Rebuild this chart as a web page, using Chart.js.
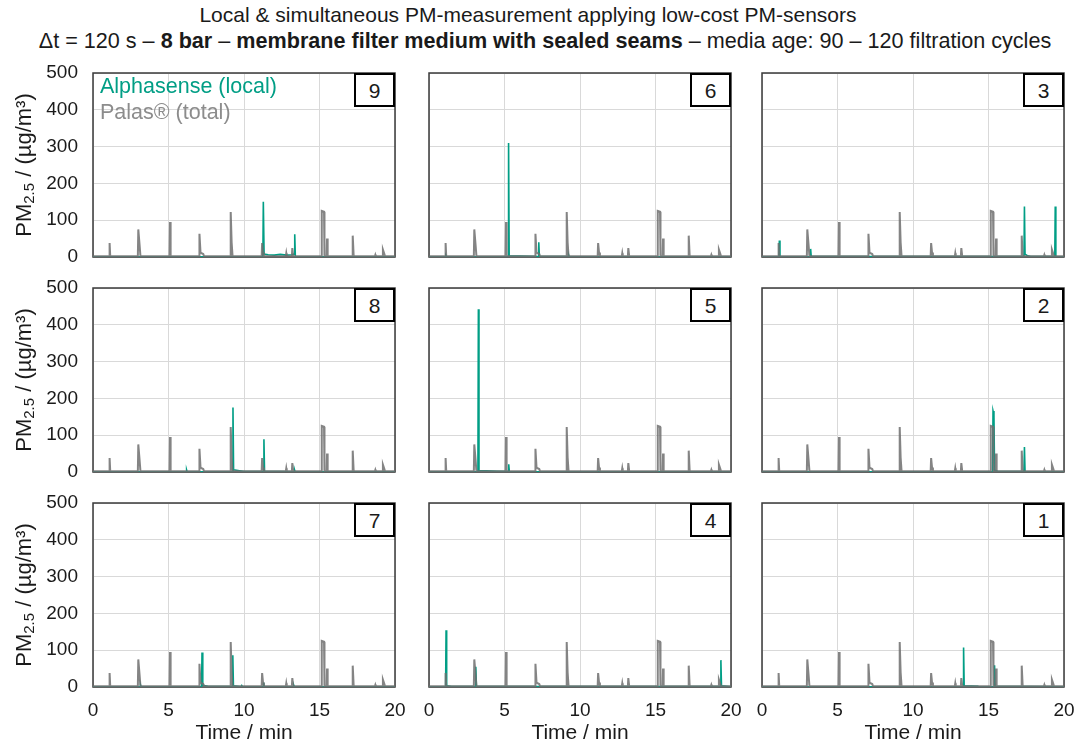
<!DOCTYPE html>
<html>
<head>
<meta charset="utf-8">
<script src="https://cdn.jsdelivr.net/npm/chart.js@4.4.1/dist/chart.umd.min.js"></script>
<style>
  body { margin: 0; background: #fff; font-family: "Liberation Sans", Arial, sans-serif; color: #1a1a1a; }
  #page { position: relative; width: 1078px; height: 749px; overflow: hidden; }
  .title { position: absolute; font-size: 21px; white-space: nowrap; transform: translateX(-50%); }
  .panel { position: absolute; }
  .num { position: absolute; width: 37px; height: 30px; border: 2px solid #000; background: #fff;
         font-size: 21px; text-align: center; line-height: 31px; }
  .ylab { position: absolute; width: 220px; height: 26px; line-height: 26px; text-align: center;
          font-size: 22px; transform: rotate(-90deg); white-space: nowrap; }
  .ylab sub { font-size: 15px; vertical-align: -3px; line-height: 0; }
  .leg { position: absolute; font-size: 21.5px; white-space: nowrap; }
</style>
</head>
<body>
<div id="page">
  <div class="title" style="left:528px;top:3px">Local &amp; simultaneous PM-measurement applying low-cost PM-sensors</div>
  <div class="title" style="left:545px;top:28px;font-size:21.6px">&Delta;t = 120 s &ndash; <b>8 bar</b> &ndash; <b>membrane filter medium with sealed seams</b> &ndash; media age: 90 &ndash; 120 filtration cycles</div>
</div>
<script>
// Achsen
const timeTicks = [0, 5, 10, 15, 20];
const pmTicks = [0, 100, 200, 300, 400, 500];

// Palas (gesamt) – gleiche Spitzen in allen Feldern
const palasTime = [0, 1.07, 1.1, 1.14, 2.97, 3.0, 3.08, 3.14, 5.07, 5.1, 5.14, 7.02, 7.05, 7.12, 7.3, 7.36,
  9.09, 9.12, 9.18, 9.24, 11.17, 11.2, 11.26, 11.32, 12.77, 12.8, 12.83, 13.17, 13.2, 13.26,
  15.12, 15.15, 15.3, 15.33, 15.47, 15.5, 15.54, 17.17, 17.2, 17.26, 17.3, 18.67, 18.7, 18.73,
  19.17, 19.2, 19.28, 19.34, 20];
const palasPM = [2, 2, 38, 3, 2, 75, 35, 3, 2, 95, 3, 2, 63, 12, 8, 2,
  2, 122, 40, 3, 2, 38, 12, 2, 2, 10, 2, 2, 24, 2,
  2, 125, 123, 2, 2, 50, 2, 2, 58, 5, 2, 2, 6, 2,
  2, 20, 10, 2, 2];

// Alphasense (lokal) – je Feld
const alpha9Time = [0, 11.25, 11.28, 11.33, 11.6, 12.0, 12.4, 12.8, 13.2, 13.33, 13.36, 13.4, 20];
const alpha9PM = [0.5, 1, 150, 8, 6, 5, 7, 5, 6, 8, 62, 1, 0.5];
const alpha6Time = [0, 1.09, 1.12, 1.16, 5.24, 5.27, 5.31, 7.24, 7.27, 7.31, 9.22, 9.25, 9.28, 20];
const alpha6PM = [0.5, 0.5, 4, 0.5, 1, 310, 3, 1, 40, 2, 1, 5, 0.5, 0.5];
const alpha3Time = [0, 1.12, 1.15, 1.19, 3.19, 3.22, 3.26, 17.35, 17.38, 17.42, 17.6, 17.8, 19.39, 19.42, 19.46, 20];
const alpha3PM = [0.5, 0.5, 45, 1, 0.5, 22, 1, 1, 137, 8, 3, 1, 1, 137, 1, 0.5];
const alpha8Time = [0, 6.17, 6.2, 6.23, 9.24, 9.27, 9.31, 9.6, 10.0, 11.29, 11.32, 11.36, 13.32, 13.35, 13.38, 20];
const alpha8PM = [0.5, 0.5, 5, 0.5, 1, 175, 6, 4, 1, 1, 89, 2, 0.5, 5, 0.5, 0.5];
const alpha5Time = [0, 3.24, 3.27, 3.31, 3.8, 4.5, 5.25, 5.28, 5.32, 20];
const alpha5PM = [0.5, 1, 442, 4, 3, 2, 1, 21, 1, 0.5];
const alpha2Time = [0, 15.27, 15.3, 15.36, 15.4, 15.6, 17.35, 17.38, 17.42, 20];
const alpha2PM = [0.5, 1, 166, 155, 5, 2, 1, 68, 1, 0.5];
const alpha7Time = [0, 3.12, 3.15, 3.18, 7.19, 7.22, 7.27, 7.6, 9.23, 9.26, 9.3, 9.8, 9.85, 9.9,
  11.27, 11.3, 11.34, 13.27, 13.3, 13.33, 20];
const alpha7PM = [0.5, 0.5, 5, 0.5, 1, 94, 5, 2, 1, 86, 3, 0.5, 4, 0.5, 1, 12, 1, 0.5, 4, 0.5, 0.5];
const alpha4Time = [0, 1.1, 1.13, 1.17, 1.5, 3.07, 3.1, 3.14, 19.3, 19.33, 19.37, 20];
const alpha4PM = [0.5, 1, 154, 3, 1, 1, 55, 2, 1, 73, 3, 0.5];
const alpha1Time = [0, 13.32, 13.35, 13.39, 14.3, 14.35, 15.37, 15.4, 15.44, 20];
const alpha1PM = [0.5, 1, 107, 3, 2, 0.5, 1, 59, 2, 0.5];

const panelOrder = [9, 6, 3, 8, 5, 2, 7, 4, 1];
const alphaTime = { 1: alpha1Time, 2: alpha2Time, 3: alpha3Time, 4: alpha4Time, 5: alpha5Time,
  6: alpha6Time, 7: alpha7Time, 8: alpha8Time, 9: alpha9Time };
const alphaPM = { 1: alpha1PM, 2: alpha2PM, 3: alpha3PM, 4: alpha4PM, 5: alpha5PM,
  6: alpha6PM, 7: alpha7PM, 8: alpha8PM, 9: alpha9PM };

const teal = '#009e85';
const grey = 'rgba(110,110,110,0.85)';

// Lage der Plotflächen
const colLeft = [93, 429, 762];
const rowTop = [73, 288, 503];
const plotW = 302, plotH = 184;
const axisW = 90, axisH = 60, padTop = 14, padRight = 16;

const page = document.getElementById('page');
const fontFam = '"Liberation Sans", Arial, sans-serif';

const framePlugin = {
  id: 'frame',
  beforeDatasetsDraw(chart) {
    const a = chart.chartArea, ctx = chart.ctx;
    ctx.save();
    ctx.strokeStyle = '#3a3a3a';
    ctx.lineWidth = 1.5;
    ctx.strokeRect(a.left, a.top, a.right - a.left, a.bottom - a.top);
    ctx.restore();
  }
};

function noOverhang(s) {
  s.paddingTop = 0; s.paddingBottom = 0; s.paddingLeft = 0; s.paddingRight = 0;
}

function toPoints(ts, vs) {
  return ts.map((t, i) => ({ x: t, y: vs[i] }));
}

panelOrder.forEach((num, k) => {
  const col = k % 3, row = Math.floor(k / 3);
  const div = document.createElement('div');
  div.className = 'panel';
  div.style.left = (colLeft[col] - axisW) + 'px';
  div.style.top = (rowTop[row] - padTop) + 'px';
  div.style.width = (axisW + plotW + padRight) + 'px';
  div.style.height = (padTop + plotH + axisH) + 'px';
  const canvas = document.createElement('canvas');
  div.appendChild(canvas);
  page.appendChild(div);

  new Chart(canvas.getContext('2d'), {
    type: 'line',
    data: {
      datasets: [
        {
          label: 'Palas® (total)',
          data: toPoints(palasTime, palasPM),
          borderColor: grey,
          borderWidth: 2,
          pointRadius: 0,
          tension: 0,
          order: 1
        },
        {
          label: 'Alphasense (local)',
          data: toPoints(alphaTime[num], alphaPM[num]),
          borderColor: teal,
          borderWidth: 1.6,
          pointRadius: 0,
          tension: 0,
          order: 2
        }
      ]
    },
    options: {
      responsive: true,
      maintainAspectRatio: false,
      animation: false,
      events: [],
      layout: { padding: { top: padTop, right: padRight, left: 0, bottom: 0 } },
      plugins: { legend: { display: false }, tooltip: { enabled: false } },
      scales: {
        x: {
          type: 'linear',
          min: 0, max: 20,
          afterBuildTicks: s => { s.ticks = timeTicks.map(v => ({ value: v })); },
          afterFit: s => { s.height = axisH; noOverhang(s); },
          border: { display: false },
          grid: { color: '#d9d9d9', lineWidth: 1, drawTicks: false },
          ticks: { display: row === 2, padding: 12, color: '#1a1a1a', maxRotation: 0,
                   font: { family: fontFam, size: 19 } },
          title: { display: row === 2, text: 'Time / min', color: '#1a1a1a', padding: { top: 0, bottom: 1 },
                   font: { family: fontFam, size: 21 } }
        },
        y: {
          min: 0, max: 500,
          afterBuildTicks: s => { s.ticks = pmTicks.map(v => ({ value: v })); },
          afterFit: s => { s.width = axisW; noOverhang(s); },
          border: { display: false },
          grid: { color: '#d9d9d9', lineWidth: 1, drawTicks: false },
          ticks: { display: col === 0, padding: 15, color: '#1a1a1a', font: { family: fontFam, size: 19 } }
        }
      }
    },
    plugins: [framePlugin]
  });

  // Feldnummer
  const box = document.createElement('div');
  box.className = 'num';
  box.textContent = num;
  box.style.left = (colLeft[col] + plotW - 41) + 'px';
  box.style.top = rowTop[row] + 'px';
  page.appendChild(box);
});

// y-Achsentitel
rowTop.forEach(top => {
  const d = document.createElement('div');
  d.className = 'ylab';
  d.innerHTML = 'PM<sub>2.5</sub> / (µg/m³)';
  d.style.left = (24 - 110) + 'px';
  d.style.top = (top + plotH / 2 - 13) + 'px';
  page.appendChild(d);
});

// Legende im ersten Feld
const leg1 = document.createElement('div');
leg1.className = 'leg';
leg1.style.left = '100px'; leg1.style.top = '74px'; leg1.style.color = teal;
leg1.textContent = 'Alphasense (local)';
page.appendChild(leg1);
const leg2 = document.createElement('div');
leg2.className = 'leg';
leg2.style.left = '100px'; leg2.style.top = '100px'; leg2.style.color = '#8c8c8c';
leg2.textContent = 'Palas® (total)';
page.appendChild(leg2);
</script>
</body>
</html>
